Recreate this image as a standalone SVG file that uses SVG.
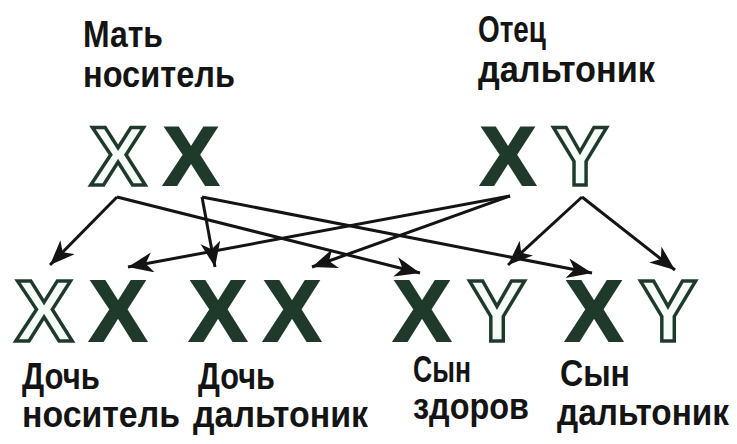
<svg xmlns="http://www.w3.org/2000/svg" width="737" height="444" viewBox="0 0 737 444">
<style>
.lbl{font-family:"Liberation Sans",Arial,sans-serif;font-weight:bold;font-size:37px;fill:#141414}
.g{font-family:"Liberation Sans",Arial,sans-serif;font-weight:bold;text-anchor:middle}
.solid{fill:#1f3a2a;stroke:#1f3a2a;stroke-width:2;stroke-linejoin:miter}
.outl{fill:#f6fcf8;stroke:#1f3a2a;stroke-width:3.5;stroke-linejoin:miter}
.top{font-size:84px}
.bot{font-size:87px}
.con{stroke:#141414;stroke-width:3;fill:none;marker-end:url(#ah)}
</style>
<defs>
<marker id="ah" markerUnits="userSpaceOnUse" markerWidth="28" markerHeight="22" refX="25" refY="10" orient="auto">
<path d="M0,0 L25,10 L0,20 L7,10 z" fill="#141414"/>
</marker>
</defs>
<rect width="737" height="444" fill="#ffffff"/>
<g id="mother">
<text class="lbl" x="83" y="47" textLength="80" lengthAdjust="spacingAndGlyphs">Мать</text>
<text class="lbl" x="83" y="87" textLength="152" lengthAdjust="spacingAndGlyphs">носитель</text>
<text class="g top outl" x="118" y="185">X</text>
<text class="g top solid" x="191" y="185">X</text>
</g>
<g id="father">
<text class="lbl" x="478" y="42" textLength="68" lengthAdjust="spacingAndGlyphs">Отец</text>
<text class="lbl" x="478" y="82" textLength="177" lengthAdjust="spacingAndGlyphs">дальтоник</text>
<text class="g top solid" x="508" y="185">X</text>
<text class="g top outl" x="580" y="185">Y</text>
</g>
<g id="daughter-carrier">
<text class="g bot outl" x="44" y="341">X</text>
<text class="g bot solid" x="118" y="341">X</text>
<text class="lbl" x="22" y="389" textLength="78" lengthAdjust="spacingAndGlyphs">Дочь</text>
<text class="lbl" x="22" y="427" textLength="158" lengthAdjust="spacingAndGlyphs">носитель</text>
</g>
<g id="daughter-colorblind">
<text class="g bot solid" x="218" y="341">X</text>
<text class="g bot solid" x="292" y="341">X</text>
<text class="lbl" x="198" y="389" textLength="77" lengthAdjust="spacingAndGlyphs">Дочь</text>
<text class="lbl" x="193" y="427" textLength="175" lengthAdjust="spacingAndGlyphs">дальтоник</text>
</g>
<g id="son-healthy">
<text class="g bot solid" x="422" y="341">X</text>
<text class="g bot outl" x="497" y="341">Y</text>
<text class="lbl" x="413" y="382" textLength="58" lengthAdjust="spacingAndGlyphs">Сын</text>
<text class="lbl" x="413" y="419" textLength="116" lengthAdjust="spacingAndGlyphs">здоров</text>
</g>
<g id="son-colorblind">
<text class="g bot solid" x="594" y="341">X</text>
<text class="g bot outl" x="668" y="341">Y</text>
<text class="lbl" x="560" y="386" textLength="70" lengthAdjust="spacingAndGlyphs">Сын</text>
<text class="lbl" transform="translate(557,425) scale(1,1.12)" x="0" y="0" style="font-size:33px" textLength="172" lengthAdjust="spacingAndGlyphs">дальтоник</text>
</g>
<g id="connectors">
<line class="con" x1="117" y1="197" x2="50" y2="265"/>
<line class="con" x1="117" y1="197" x2="420" y2="273"/>
<line class="con" x1="202" y1="197" x2="215" y2="267"/>
<line class="con" x1="202" y1="197" x2="592" y2="273"/>
<line class="con" x1="510" y1="196" x2="128" y2="267"/>
<line class="con" x1="510" y1="196" x2="312" y2="267"/>
<line class="con" x1="582" y1="197" x2="508" y2="265"/>
<line class="con" x1="582" y1="197" x2="675" y2="270"/>
</g>
</svg>
